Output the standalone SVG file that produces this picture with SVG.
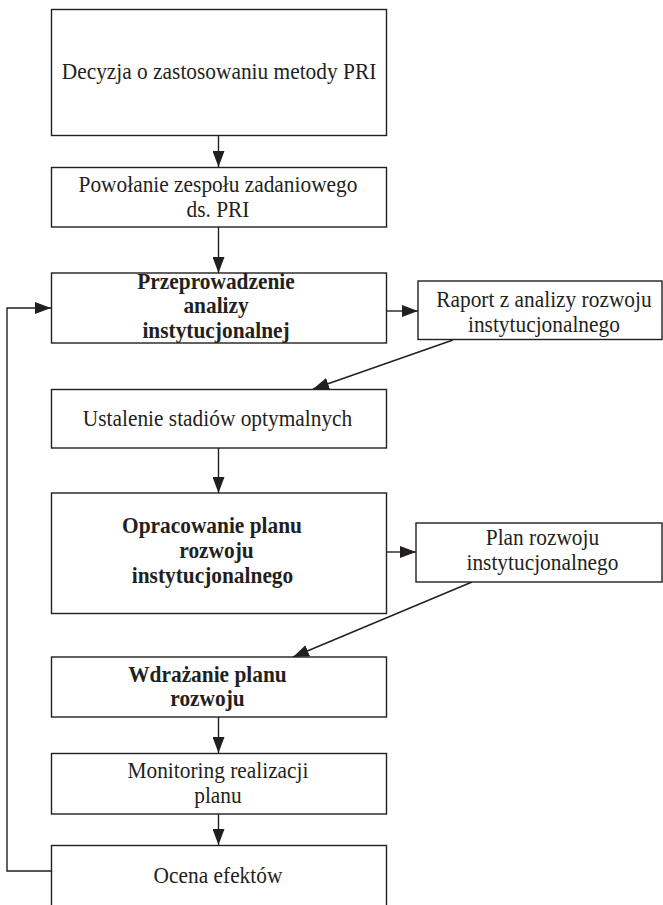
<svg xmlns="http://www.w3.org/2000/svg" width="663" height="905" viewBox="0 0 663 905">
<style>
.box{fill:#fff;stroke:#231f20;stroke-width:1.4}
.t{font-family:"Liberation Serif","Times New Roman",serif;font-size:23px;fill:#231f20;text-anchor:middle}
.b{font-weight:bold}
.c{fill:none;stroke:#231f20;stroke-width:1.4}
</style>
<defs>
<marker id="ah" viewBox="0 0 16 12" refX="16" refY="6" markerWidth="16" markerHeight="12" markerUnits="userSpaceOnUse" orient="auto">
<path d="M0,0 L16,6 L0,12 z" fill="#231f20"/>
</marker>
</defs>
<rect width="663" height="905" fill="#fff"/>
<g id="connectors">
<line class="c" x1="218.5" y1="135.5" x2="218.5" y2="167" marker-end="url(#ah)"/>
<line class="c" x1="218.5" y1="227" x2="218.5" y2="273" marker-end="url(#ah)"/>
<line class="c" x1="386.5" y1="311" x2="418" y2="311" marker-end="url(#ah)"/>
<line class="c" x1="453" y1="340" x2="313" y2="389" marker-end="url(#ah)"/>
<line class="c" x1="218.5" y1="448" x2="218.5" y2="493" marker-end="url(#ah)"/>
<line class="c" x1="386.5" y1="552" x2="416" y2="552" marker-end="url(#ah)"/>
<line class="c" x1="472" y1="582" x2="293" y2="657" marker-end="url(#ah)"/>
<line class="c" x1="218.5" y1="717" x2="218.5" y2="753" marker-end="url(#ah)"/>
<line class="c" x1="218.5" y1="814" x2="218.5" y2="845" marker-end="url(#ah)"/>
<polyline class="c" points="51,871 7,871 7,308 51,308" marker-end="url(#ah)"/>
</g>
<g id="n1">
<rect class="box" x="51.5" y="9.5" width="335" height="126"/>
<g transform="scale(0.93,1)"><text class="t" x="235.5" y="79">Decyzja o zastosowaniu metody PRI</text></g>
</g>
<g id="n2">
<rect class="box" x="51.5" y="167.5" width="335" height="59.5"/>
<g transform="scale(0.93,1)">
<text class="t" x="234.4" y="192">Powołanie zespołu zadaniowego</text>
<text class="t" x="234.4" y="217">ds. PRI</text>
</g>
</g>
<g id="n3">
<rect class="box" x="51.5" y="273" width="335" height="70"/>
<g transform="scale(0.93,1)">
<text class="t b" x="232.3" y="289">Przeprowadzenie</text>
<text class="t b" x="232.3" y="313.5">analizy</text>
<text class="t b" x="232.3" y="338">instytucjonalnej</text>
</g>
</g>
<g id="n4">
<rect class="box" x="418" y="281" width="244" height="58.5"/>
<g transform="scale(0.93,1)">
<text class="t" x="584.9" y="307.5">Raport z analizy rozwoju</text>
<text class="t" x="584.9" y="332">instytucjonalnego</text>
</g>
</g>
<g id="n5">
<rect class="box" x="51.5" y="389.5" width="335" height="58.5"/>
<g transform="scale(0.93,1)"><text class="t" x="233.9" y="426">Ustalenie stadiów optymalnych</text></g>
</g>
<g id="n6">
<rect class="box" x="51.5" y="493" width="335" height="120.5"/>
<g transform="scale(0.93,1)">
<text class="t b" x="228" y="533">Opracowanie planu</text>
<text class="t b" x="232.8" y="558.5">rozwoju</text>
<text class="t b" x="228.5" y="583">instytucjonalnego</text>
</g>
</g>
<g id="n7">
<rect class="box" x="416" y="523" width="246" height="59"/>
<g transform="scale(0.93,1)">
<text class="t" x="583.3" y="545">Plan rozwoju</text>
<text class="t" x="583.3" y="570.5">instytucjonalnego</text>
</g>
</g>
<g id="n8">
<rect class="box" x="51.5" y="657" width="335" height="60"/>
<g transform="scale(0.93,1)">
<text class="t b" x="223.1" y="682">Wdrażanie planu</text>
<text class="t b" x="223.1" y="706.5">rozwoju</text>
</g>
</g>
<g id="n9">
<rect class="box" x="51.5" y="753.5" width="335" height="60.5"/>
<g transform="scale(0.93,1)">
<text class="t" x="234.4" y="778">Monitoring realizacji</text>
<text class="t" x="234.4" y="803">planu</text>
</g>
</g>
<g id="n10">
<rect class="box" x="51.5" y="845.5" width="335" height="70"/>
<g transform="scale(0.93,1)"><text class="t" x="234.4" y="883.5">Ocena efektów</text></g>
</g>
</svg>
